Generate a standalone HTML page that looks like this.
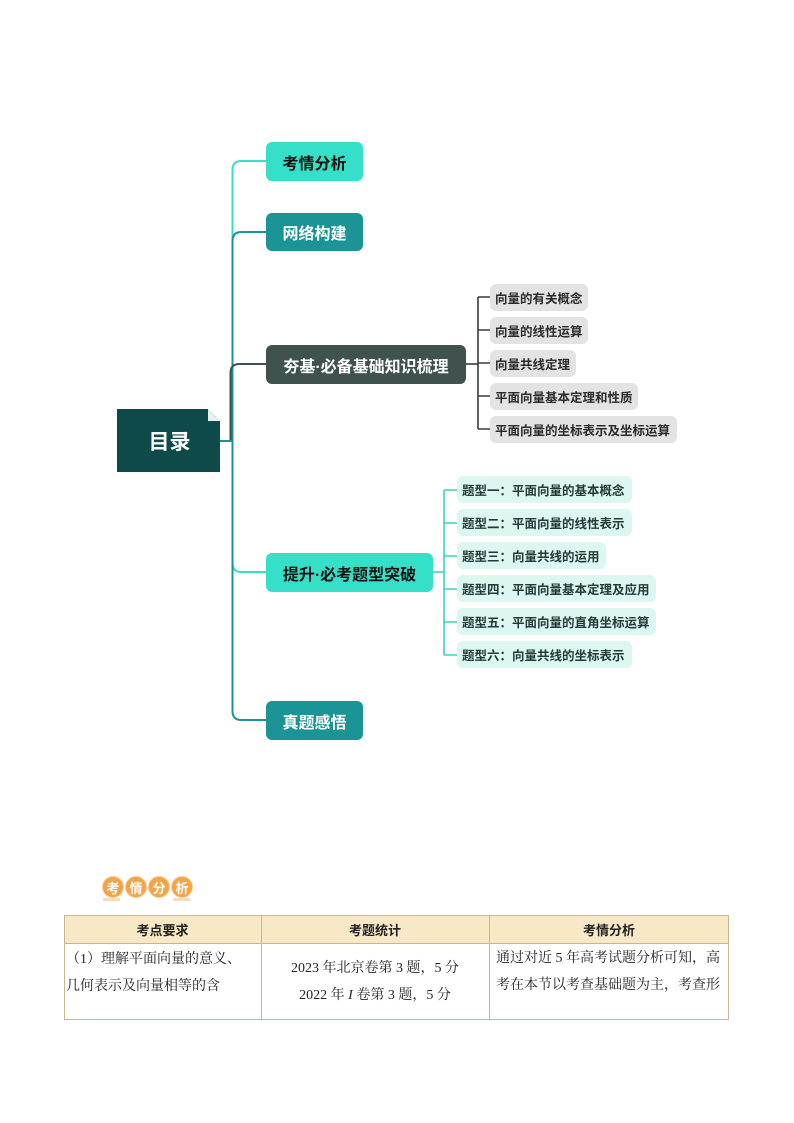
<!DOCTYPE html>
<html><head><meta charset="utf-8">
<style>
html,body{margin:0;padding:0;background:#fff;}
body{width:794px;height:1123px;position:relative;overflow:hidden;font-family:"Liberation Sans","Noto Sans CJK SC",sans-serif;}
.n{position:absolute;box-sizing:border-box;border-radius:6px;font-weight:bold;font-size:16px;display:flex;align-items:center;justify-content:center;white-space:nowrap;}
.tq{background:#36dfc7;color:#111;}
.tl{background:#1a9494;color:#fff;}
.dg{background:#3f524e;color:#fff;}
.s{position:absolute;box-sizing:border-box;border-radius:6px;font-weight:bold;font-size:12.5px;height:27px;display:flex;align-items:center;padding-left:5px;white-space:nowrap;}
.sg{background:#e3e3e3;color:#2a2a2a;}
.sm{background:#dcf6f0;color:#1f3a38;}
.c{position:absolute;width:22px;height:22px;border-radius:50%;background:#f2a548;border:1.5px solid #f9cf94;box-sizing:border-box;color:#fff;font-weight:bold;font-size:13px;display:flex;align-items:center;justify-content:center;}
.t{position:absolute;font-family:"Liberation Serif","Noto Serif CJK SC",serif;font-size:14px;color:#222;white-space:nowrap;}
.h{position:absolute;height:27px;display:flex;align-items:center;justify-content:center;font-weight:bold;font-size:13px;color:#222;}
</style></head><body>
<svg width="794" height="1123" style="position:absolute;left:0;top:0" xmlns="http://www.w3.org/2000/svg">
<g fill="none" stroke-width="2">
<path d="M232.5,441 V170 Q232.5,161 241.5,161 H266" stroke="#36dfc7"/>
<path d="M232.5,441 V563 Q232.5,572 241.5,572 H266" stroke="#36dfc7"/>
<path d="M232.5,441 V241 Q232.5,232 241.5,232 H266" stroke="#1a9494"/>
<path d="M232.5,441 V711 Q232.5,720 241.5,720 H266" stroke="#1a9494"/>
<path d="M230.5,441 V373 Q230.5,364 239.5,364 H266" stroke="#3f524e"/>
<path d="M220,441 H233" stroke="#1a9494"/>
</g>
<g fill="none" stroke="#3a3a3a" stroke-width="1.6">
<path d="M466,364 H478"/>
<path d="M478,297 V429"/>
<path d="M478,297 H490 M478,330 H490 M478,363 H490 M478,396 H490 M478,429 H490"/>
</g>
<g fill="none" stroke="#3ad3bf" stroke-width="1.6">
<path d="M433,572 H444"/>
<path d="M444,490 V655"/>
<path d="M444,490 H457 M444,523 H457 M444,556 H457 M444,589 H457 M444,622 H457 M444,655 H457"/>
</g>
<polygon points="117,409 208,409 220,421 220,472 117,472" fill="#0f4a4a"/>
<polygon points="208,409 220,421 208,421" fill="#e8f0ef"/>
</svg>
<div style="position:absolute;left:117px;top:409px;width:103px;height:63px;display:flex;align-items:center;justify-content:center;color:#fff;font-weight:bold;font-size:21px;padding-left:2px;box-sizing:border-box;">目录</div>

<div class="n tq" style="left:266px;top:142px;width:97px;height:39px;">考情分析</div>
<div class="n tl" style="left:266px;top:213px;width:97px;height:38px;">网络构建</div>
<div class="n dg" style="left:266px;top:345px;width:200px;height:39px;">夯基·必备基础知识梳理</div>
<div class="n tq" style="left:266px;top:553px;width:167px;height:39px;">提升·必考题型突破</div>
<div class="n tl" style="left:266px;top:701px;width:97px;height:39px;">真题感悟</div>

<div class="s sg" style="left:490px;top:284px;width:98px;">向量的有关概念</div>
<div class="s sg" style="left:490px;top:317px;width:98px;">向量的线性运算</div>
<div class="s sg" style="left:490px;top:350px;width:86px;">向量共线定理</div>
<div class="s sg" style="left:490px;top:383px;width:148px;">平面向量基本定理和性质</div>
<div class="s sg" style="left:490px;top:416px;width:187px;">平面向量的坐标表示及坐标运算</div>

<div class="s sm" style="left:457px;top:476px;width:175px;">题型一：平面向量的基本概念</div>
<div class="s sm" style="left:457px;top:509px;width:175px;">题型二：平面向量的线性表示</div>
<div class="s sm" style="left:457px;top:542px;width:149px;">题型三：向量共线的运用</div>
<div class="s sm" style="left:457px;top:575px;width:199px;">题型四：平面向量基本定理及应用</div>
<div class="s sm" style="left:457px;top:608px;width:199px;">题型五：平面向量的直角坐标运算</div>
<div class="s sm" style="left:457px;top:641px;width:175px;">题型六：向量共线的坐标表示</div>

<div class="c" style="left:102px;top:876px;">考</div>
<div class="c" style="left:125px;top:876px;">情</div>
<div class="c" style="left:148px;top:876px;">分</div>
<div class="c" style="left:171px;top:876px;">析</div>
<div style="position:absolute;left:103px;top:898px;width:17px;height:3px;background:#f3dcc0;"></div>
<div style="position:absolute;left:173px;top:898px;width:17px;height:3px;background:#f3dcc0;"></div>

<div style="position:absolute;left:64px;top:915px;width:665px;height:105px;border:1px solid #c9b68e;box-sizing:border-box;"></div>
<div style="position:absolute;left:65px;top:916px;width:663px;height:27px;background:#f9e8c6;border-bottom:1px solid #c9b68e;"></div>
<div style="position:absolute;left:261px;top:915px;width:1px;height:105px;background:#c9b68e;"></div>
<div style="position:absolute;left:489px;top:915px;width:1px;height:105px;background:#c9b68e;"></div>

<div class="h" style="left:64px;top:916px;width:197px;">考点要求</div>
<div class="h" style="left:261px;top:916px;width:228px;">考题统计</div>
<div class="h" style="left:489px;top:916px;width:240px;">考情分析</div>

<div class="t" style="left:66px;top:948px;">（1）理解平面向量的意义、</div>
<div class="t" style="left:66px;top:975px;">几何表示及向量相等的含</div>
<div class="t" style="left:261px;width:228px;text-align:center;top:957px;">2023 年北京卷第 3 题，5 分</div>
<div class="t" style="left:261px;width:228px;text-align:center;top:984px;">2022 年 <i>I</i> 卷第 3 题，5 分</div>
<div class="t" style="left:496px;top:947px;">通过对近 5 年高考试题分析可知，高</div>
<div class="t" style="left:496px;top:974px;">考在本节以考查基础题为主，考查形</div>
</body></html>
